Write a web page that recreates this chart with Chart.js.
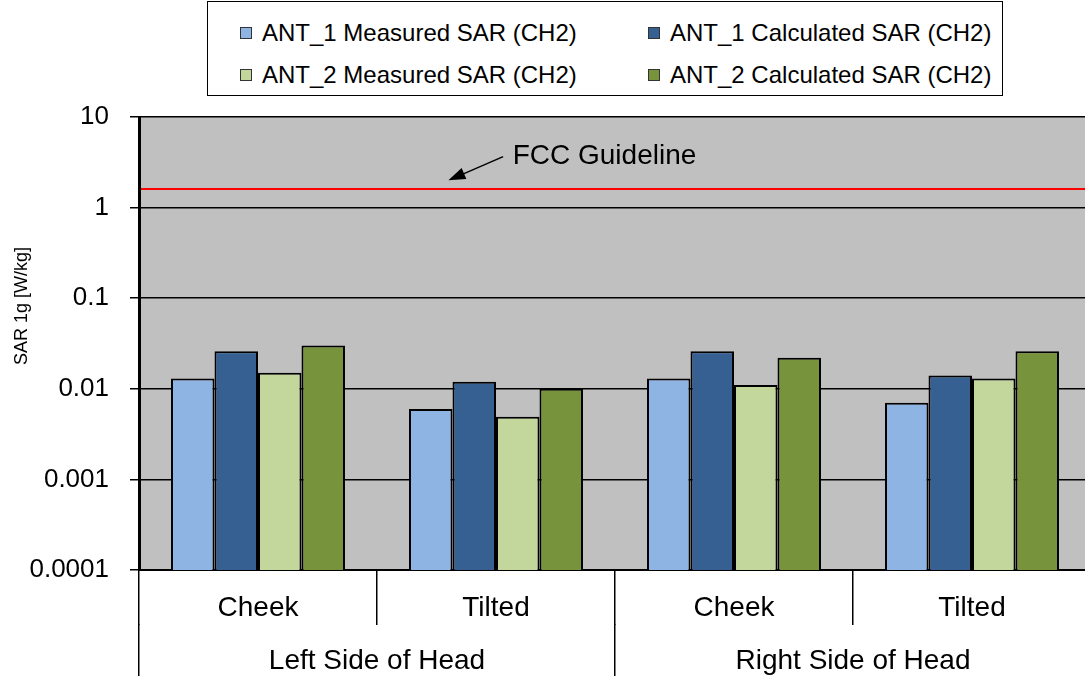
<!DOCTYPE html>
<html>
<head>
<meta charset="utf-8">
<script src="https://cdn.jsdelivr.net/npm/chart.js@4.4.1/dist/chart.umd.min.js"></script>
<style>
    html, body { margin: 0; padding: 0; overflow: hidden; background: #fff; }
    #wrap { position: relative; width: 1085px; height: 676px; overflow: hidden; }
    #chart_sar { position: absolute; left: 0; top: 0; }
    #legend {
        position: absolute; left: 207px; top: 1px; width: 796px; height: 95px;
        box-sizing: border-box; border: 1px solid #000; background: #fff;
    }
    #legend .item {
        position: absolute; height: 30px; display: flex; align-items: center;
        font: 24px "Liberation Sans", Arial, sans-serif; color: #000; white-space: nowrap;
    }
    #legend .swatch {
        width: 10px; height: 10px; border: 1px solid #333; margin-right: 10px;
    }
</style>
</head>
<body>
<div id="wrap">
    <canvas id="chart_sar" width="1091" height="676"></canvas>
    <div id="legend"></div>
</div>
<script>
// categories and groups
const categories = ['Cheek', 'Tilted', 'Cheek', 'Tilted'];
const sides = ['Left Side of Head', 'Right Side of Head'];

// SAR 1g values [W/kg]
const ant1Measured = [0.013, 0.006, 0.013, 0.007];
const ant1Calculated = [0.026, 0.012, 0.026, 0.014];
const ant2Measured = [0.015, 0.0049, 0.011, 0.013];
const ant2Calculated = [0.030, 0.010, 0.022, 0.026];

const seriesNames = [
    'ANT_1 Measured SAR (CH2)',
    'ANT_1 Calculated SAR (CH2)',
    'ANT_2 Measured SAR (CH2)',
    'ANT_2 Calculated SAR (CH2)'
];
const seriesColors = ['#8EB4E3', '#366092', '#C3D69B', '#77933C'];

const yTicks = [0.0001, 0.001, 0.01, 0.1, 1, 10];
const yTitle = 'SAR 1g [W/kg]';
const fccLimit = 1.6;
const fccLabel = 'FCC Guideline';

const FONT = '"Liberation Sans", Arial, sans-serif';
Chart.defaults.font.family = FONT;
Chart.defaults.color = '#000';

// gray plot area, FCC line, y title and arrow note
const plotDecor = {
    id: 'plotDecor',
    beforeDraw(chart) {
        const a = chart.chartArea;
        const c = chart.ctx;
        c.save();
        c.fillStyle = '#C0C0C0';
        c.fillRect(a.left, a.top, a.right - a.left, a.bottom - a.top);
        c.restore();
    },
    beforeDatasetsDraw(chart) {
        const a = chart.chartArea;
        const c = chart.ctx;
        const py = chart.scales.y.getPixelForValue(fccLimit);
        c.save();
        c.strokeStyle = '#FF0000';
        c.lineWidth = 2;
        c.beginPath();
        c.moveTo(a.left + 2, py);
        c.lineTo(a.right, py);
        c.stroke();
        c.restore();
    },
    afterDraw(chart) {
        const c = chart.ctx;
        const x = chart.scales.x;
        const y = chart.scales.y;

        c.save();
        c.translate(22, 306);
        c.rotate(-Math.PI / 2);
        c.font = '18px ' + FONT;
        c.fillStyle = '#000';
        c.textAlign = 'center';
        c.textBaseline = 'middle';
        c.fillText(yTitle, 0, 0);
        c.restore();

        // arrow pointing at the guideline
        const tipX = x.getPixelForValue(0.8), tipY = y.getPixelForValue(2.0);
        const tailX = x.getPixelForValue(1.03), tailY = y.getPixelForValue(3.65);
        const ang = Math.atan2(tipY - tailY, tipX - tailX);
        c.save();
        c.strokeStyle = '#000';
        c.fillStyle = '#000';
        c.lineWidth = 1.5;
        c.beginPath();
        c.moveTo(tailX, tailY);
        c.lineTo(tipX - 12 * Math.cos(ang), tipY - 12 * Math.sin(ang));
        c.stroke();
        c.beginPath();
        c.moveTo(tipX, tipY);
        c.lineTo(tipX - 17 * Math.cos(ang) + 6 * Math.sin(ang), tipY - 17 * Math.sin(ang) - 6 * Math.cos(ang));
        c.lineTo(tipX - 17 * Math.cos(ang) - 6 * Math.sin(ang), tipY - 17 * Math.sin(ang) + 6 * Math.cos(ang));
        c.closePath();
        c.fill();

        c.font = '28px ' + FONT;
        c.textAlign = 'left';
        c.textBaseline = 'middle';
        c.fillText(fccLabel, x.getPixelForValue(1.07), y.getPixelForValue(3.7));
        c.restore();
    }
};

const seriesData = [ant1Measured, ant1Calculated, ant2Measured, ant2Calculated];

let ctx_sar = document.getElementById('chart_sar');
let chart_sar = new Chart(ctx_sar, {
    type: 'bar',
    data: {
        labels: categories,
        datasets: seriesNames.map((name, i) => ({
            label: name,
            data: seriesData[i],
            backgroundColor: seriesColors[i],
            borderColor: '#000',
            borderWidth: 2,
            categoryPercentage: 0.731,
            barPercentage: 1
        }))
    },
    options: {
        responsive: false,
        animation: false,
        layout: {
            padding: { top: 117 }
        },
        plugins: {
            legend: { display: false },
            tooltip: { enabled: false }
        },
        scales: {
            x: {
                position: 'bottom',
                weight: 0,
                grid: {
                    drawOnChartArea: false,
                    offset: true,
                    tickLength: 55,
                    color: '#000',
                    lineWidth: 1.5
                },
                border: { color: '#000', width: 2 },
                ticks: { padding: -34, maxRotation: 0, font: { size: 28 } },
                afterFit: s => { s.height = 54; }
            },
            x2: {
                type: 'category',
                labels: sides,
                position: 'bottom',
                weight: 1,
                offset: true,
                grid: {
                    drawOnChartArea: false,
                    offset: true,
                    tickLength: 52,
                    color: '#000',
                    lineWidth: 1.5
                },
                border: { display: false },
                ticks: { padding: -32, maxRotation: 0, font: { size: 28 } },
                afterFit: s => { s.height = 52; }
            },
            y: {
                type: 'logarithmic',
                min: 0.0001,
                max: 10,
                afterBuildTicks: s => { s.ticks = yTicks.map(v => ({ value: v })); },
                grid: {
                    color: '#000',
                    lineWidth: 1.5,
                    tickLength: 9
                },
                border: { color: '#000', width: 3 },
                ticks: {
                    padding: 21,
                    font: { size: 26 },
                    callback: v => String(v)
                },
                afterFit: s => { s.width = 139; }
            }
        }
    },
    plugins: [plotDecor]
});

// legend box, two columns
let legendBox = document.getElementById('legend');
chart_sar.data.datasets.forEach((ds, i) => {
    let item = document.createElement('div');
    item.className = 'item';
    item.style.left = (i % 2 === 0 ? 32 : 440) + 'px';
    item.style.top = (i < 2 ? 16 : 58) + 'px';
    let sw = document.createElement('span');
    sw.className = 'swatch';
    sw.style.background = ds.backgroundColor;
    item.appendChild(sw);
    item.appendChild(document.createTextNode(ds.label));
    legendBox.appendChild(item);
});
</script>
</body>
</html>
